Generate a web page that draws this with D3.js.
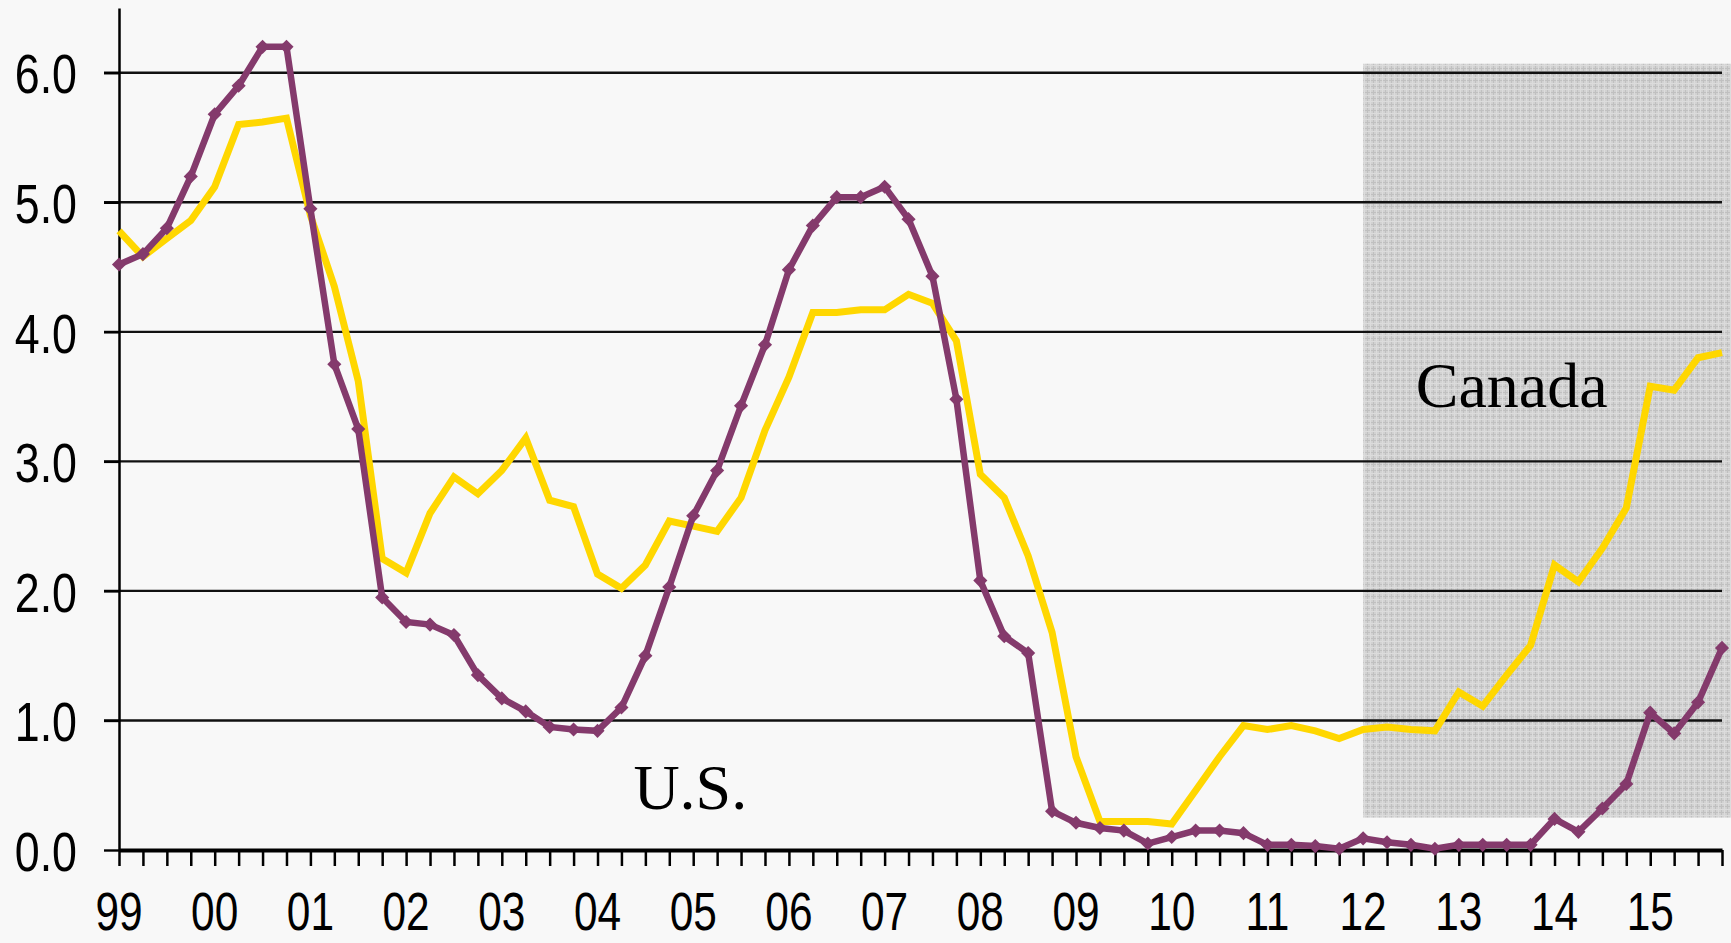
<!DOCTYPE html>
<html>
<head>
<meta charset="utf-8">
<script src="https://cdn.jsdelivr.net/npm/d3@7"></script>
<style>
  body { margin: 0; background: #f8f8f8; }
  svg { display: block; }
</style>
</head>
<body>
<div id="chart"></div>
<script>
// years on the axis, one point per quarter
const years = ["99","00","01","02","03","04","05","06","07","08","09","10","11","12","13","14","15"];
const quarters = years.flatMap(y => ["Q1","Q2","Q3","Q4"].map(q => y + q));

// U.S. (purple, with markers)
const usRates = [
  4.52, 4.60, 4.80, 5.20, 5.68, 5.90, 6.20, 6.20,
  4.95, 3.75, 3.25, 1.95, 1.76, 1.74, 1.66, 1.35,
  1.17, 1.07, 0.95, 0.93, 0.92, 1.10, 1.50, 2.03,
  2.58, 2.93, 3.43, 3.90, 4.48, 4.82, 5.04, 5.04,
  5.12, 4.87, 4.43, 3.48, 2.08, 1.65, 1.52, 0.30,
  0.21, 0.17, 0.15, 0.05, 0.10, 0.15, 0.15, 0.13,
  0.04, 0.04, 0.03, 0.01, 0.09, 0.06, 0.04, 0.01,
  0.04, 0.04, 0.04, 0.04, 0.24, 0.14, 0.32, 0.51,
  1.06, 0.90, 1.14, 1.56
];

// Canada (yellow)
const canadaRates = [
  4.78, 4.58, 4.72, 4.86, 5.12, 5.60, 5.62, 5.65,
  4.90, 4.35, 3.62, 2.25, 2.14, 2.60, 2.88, 2.75,
  2.93, 3.18, 2.70, 2.65, 2.13, 2.02, 2.20, 2.54,
  2.50, 2.46, 2.72, 3.24, 3.65, 4.15, 4.15, 4.17,
  4.17, 4.29, 4.22, 3.93, 2.90, 2.72, 2.27, 1.68,
  0.72, 0.22, 0.22, 0.22, 0.20, 0.46, 0.72, 0.96,
  0.93, 0.96, 0.92, 0.86, 0.93, 0.95, 0.93, 0.92,
  1.22, 1.11, 1.35, 1.58, 2.20, 2.07, 2.33, 2.64,
  3.58, 3.55, 3.80, 3.84
];

const yTicks = [0, 1, 2, 3, 4, 5, 6];
const shadeFrom = "12Q1";
const shadeValues = [0.25, 6.07];
const seriesLabels = [
  {text: "U.S.", at: "04Q2", v: 0.32, shift: 0.5},
  {text: "Canada", at: "12Q3", v: 3.42, shift: 0.2}
];

const W = 1731, H = 943;
const margin = {top: 8, right: 9, bottom: 93, left: 119};
const width = W - margin.left - margin.right;
const height = H - margin.top - margin.bottom;
const sx = 0.8; // narrow digits

const svg = d3.select("#chart").append("svg")
    .attr("width", W)
    .attr("height", H)
    .style("background", "#f8f8f8");

// hatch pattern for the forecast band
const defs = svg.append("defs");
const pat = defs.append("pattern")
    .attr("id", "hatch")
    .attr("patternUnits", "userSpaceOnUse")
    .attr("width", 6).attr("height", 6);
pat.append("rect").attr("width", 6).attr("height", 6).attr("fill", "#d2d2d2");
pat.append("path").attr("d", "M0,0.5H6M0.5,0V6").attr("stroke", "#c0c0c0").attr("stroke-width", 1);
pat.append("path").attr("d", "M0,3.5H6M3.5,0V6").attr("stroke", "#dcdcdc").attr("stroke-width", 1);

const g = svg.append("g")
    .attr("transform", "translate(" + margin.left + "," + margin.top + ")");

const x = d3.scalePoint().domain(quarters).range([0, width]);
const y = d3.scaleLinear().domain([0, 6.5]).range([height, 0]);

// shaded band
g.append("rect")
    .attr("x", x(shadeFrom))
    .attr("y", y(shadeValues[1]))
    .attr("width", W - margin.left - x(shadeFrom))
    .attr("height", y(shadeValues[0]) - y(shadeValues[1]))
    .attr("fill", "url(#hatch)");

// gridlines
g.selectAll(".grid")
  .data(yTicks.filter(d => d > 0))
  .enter().append("line")
    .attr("x1", -15).attr("x2", width)
    .attr("y1", d => y(d)).attr("y2", d => y(d))
    .attr("stroke", "#111")
    .attr("stroke-width", 2.4);

// y axis
const yAxis = g.append("g")
    .call(d3.axisLeft(y).tickValues(yTicks).tickSize(15)
      .tickFormat(d3.format(".1f")).tickSizeOuter(0));
yAxis.select(".domain").attr("stroke", "#000").attr("stroke-width", 2.5);
yAxis.selectAll(".tick line").attr("stroke", "#000").attr("stroke-width", 2.4);
yAxis.selectAll("text")
    .style("font-family", "'Liberation Sans', Arial, sans-serif")
    .style("font-size", "56px")
    .attr("fill", "#000")
    .attr("x", -42 / sx)
    .attr("dy", "0.36em")
    .attr("transform", "scale(" + sx + ",1)");

// x axis, quarterly ticks
const xAxis = g.append("g")
    .attr("transform", "translate(0," + height + ")")
    .call(d3.axisBottom(x).tickSize(16).tickSizeOuter(0).tickFormat(""));
xAxis.select(".domain").attr("stroke", "#000").attr("stroke-width", 4);
xAxis.selectAll(".tick line").attr("stroke", "#000").attr("stroke-width", 2.5);

// year labels
g.selectAll(".year")
  .data(years)
  .enter().append("text")
    .attr("transform", d => "translate(" + x(d + "Q1") + "," + (height + 80) + ") scale(" + sx + ",1)")
    .attr("text-anchor", "middle")
    .style("font-family", "'Liberation Sans', Arial, sans-serif")
    .style("font-size", "53px")
    .attr("fill", "#000")
    .text(d => d);

// lines
const line = d3.line()
    .x((d, i) => x(quarters[i]))
    .y(d => y(d));

g.append("path")
    .datum(canadaRates)
    .attr("fill", "none")
    .attr("stroke", "#ffd700")
    .attr("stroke-width", 7)
    .attr("d", line);

g.append("path")
    .datum(usRates)
    .attr("fill", "none")
    .attr("stroke", "#843a6c")
    .attr("stroke-width", 6.5)
    .attr("d", line);

g.selectAll(".mark")
  .data(usRates)
  .enter().append("path")
    .attr("d", d3.symbol().type(d3.symbolSquare).size(100))
    .attr("transform", (d, i) => "translate(" + x(quarters[i]) + "," + y(d) + ") rotate(45)")
    .attr("fill", "#843a6c");

// series names
g.selectAll(".name")
  .data(seriesLabels)
  .enter().append("text")
    .attr("x", d => x(d.at) + d.shift * x.step())
    .attr("y", d => y(d.v))
    .style("font-family", "'Liberation Serif', 'Times New Roman', serif")
    .style("font-size", "64px")
    .attr("fill", "#000")
    .text(d => d.text);
</script>
</body>
</html>
